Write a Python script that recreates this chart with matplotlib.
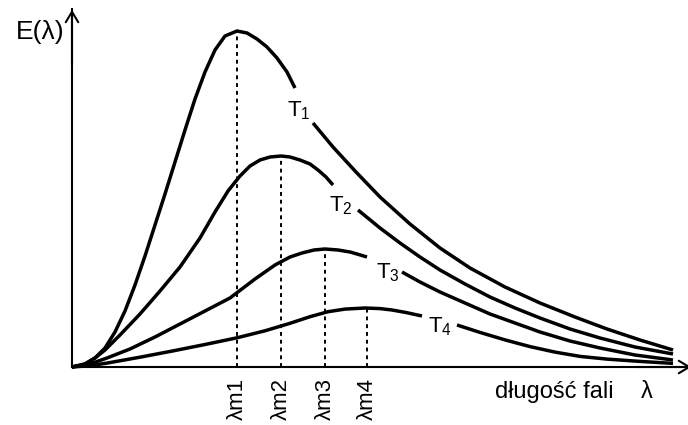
import matplotlib
matplotlib.use("Agg")
import matplotlib.pyplot as plt
import numpy as np

plt.rcParams['font.family'] = ['Liberation Sans', 'DejaVu Sans']
plt.rcParams['mathtext.fontset'] = 'custom'
plt.rcParams['mathtext.rm'] = 'Liberation Sans'
plt.rcParams['mathtext.it'] = 'Liberation Sans'

# Curve samples (x = wavelength, y = E); NaN = gap where the label sits
t1_x = [0, 13, 23, 33, 43, 53, 63, 73, 83, 93, 103, 113, 123, 133, 143, 153, 165,
        175, 185, 195, 205, 215, 223,
        np.nan, 241, 261, 284, 308, 338, 368, 398, 433, 468, 503, 535, 568, 601]
t1_y = [0, 3, 9, 19, 35, 56, 82, 111, 142, 173, 205, 237, 268, 295, 317, 331, 336,
        334, 328, 320, 309, 295, 279,
        np.nan, 244, 220, 195, 170, 143, 119, 99, 80, 64, 50, 38, 27, 17]

t2_x = [0, 13, 23, 33, 48, 68, 88, 108, 128, 143, 156, 168, 178, 188, 198, 209,
        218, 228, 238, 246, 254, 261,
        np.nan, 286, 308, 328, 348, 368, 393, 418, 443, 468, 498, 528, 563, 601]
t2_y = [0, 3, 9, 17, 32, 53, 76, 100, 129, 155, 176, 191, 201, 207, 210, 211,
        210, 207, 203, 197, 190, 182,
        np.nan, 157, 139, 124, 110, 97, 83, 70, 59, 49, 38, 29, 20, 13]

t3_x = [0, 18, 35, 58, 83, 108, 133, 158, 183, 203, 218, 230, 242, 253,
        266, 278, 285, 295,
        np.nan, 330, 348, 368, 393, 418, 443, 468, 498, 528, 563, 601]
t3_y = [0, 3, 9, 18, 30, 43, 56, 69, 88, 102, 110, 114, 117, 118,
        117, 115, 113, 110,
        np.nan, 95, 85, 75, 64, 53, 44, 35, 26, 19, 12, 7]

t4_x = [0, 18, 35, 68, 101, 133, 165, 193, 218, 238, 256, 273, 293,
        308, 320, 334, 350,
        np.nan, 385, 408, 433, 458, 483, 508, 535, 568, 601]
t4_y = [0, 1.3, 3.9, 9.8, 16.1, 22.5, 29.2, 36.2, 43.7, 50.3, 55.3, 57.9, 59,
        58.4, 57, 54.5, 51,
        np.nan, 42, 34.6, 27.1, 20.4, 14.9, 10.6, 7.9, 5.6, 3.6]

peak_x = [165, 209, 253, 295]
peak_y = [336, 211, 118, 59]
tick_labels = ['λm1', 'λm2', 'λm3', 'λm4']

curve_labels = [r'$\mathrm{T}_1$', r'$\mathrm{T}_2$', r'$\mathrm{T}_3$', r'$\mathrm{T}_4$']
curve_label_x = [227, 269, 316, 368]
curve_label_y = [256, 161, 94, 40]

fig = plt.figure(figsize=(6.88, 4.25), dpi=100)
ax = fig.add_axes([0, 0, 1, 1])
ax.set_xlim(-72, 616)
ax.set_ylim(-58, 367)

for xs, ys in [(t1_x, t1_y), (t2_x, t2_y), (t3_x, t3_y), (t4_x, t4_y)]:
    ax.plot(xs, ys, color='black', lw=2.5, solid_capstyle='butt',
            solid_joinstyle='round')

ax.vlines(peak_x, 0, peak_y, colors='black', lw=1.4, linestyles=(0, (2, 2)))

for lab, lx, ly in zip(curve_labels, curve_label_x, curve_label_y):
    ax.text(lx, ly, lab, fontsize=16, ha='center', va='center')

# axes
for s in ['top', 'right']:
    ax.spines[s].set_visible(False)
ax.spines['left'].set_position(('data', 0))
ax.spines['bottom'].set_position(('data', 0))
ax.spines['left'].set_bounds(0, 358)
ax.spines['bottom'].set_bounds(0, 616)
ax.spines['left'].set_linewidth(1.5)
ax.spines['bottom'].set_linewidth(1.5)
ax.annotate('', xy=(0, 360), xytext=(0, 300),
            arrowprops=dict(arrowstyle='->,head_length=0.5,head_width=0.3',
                            lw=1.5, color='black', mutation_scale=15))
ax.annotate('', xy=(622, 0), xytext=(560, 0), annotation_clip=False,
            arrowprops=dict(arrowstyle='->,head_length=0.5,head_width=0.3',
                            lw=1.5, color='black', mutation_scale=15))

ax.set_yticks([])
ax.set_xticks(peak_x)
ax.set_xticklabels(tick_labels, rotation=90, fontsize=16)
ax.tick_params(axis='x', length=0, pad=8)

ax.text(-32, 335, 'E(λ)', fontsize=19, ha='center', va='center')
ax.text(482, -25, 'długość fali', fontsize=17, ha='center', va='center')
ax.text(575, -25, 'λ', fontsize=17, ha='center', va='center')

fig.savefig('out.png', dpi=100)
